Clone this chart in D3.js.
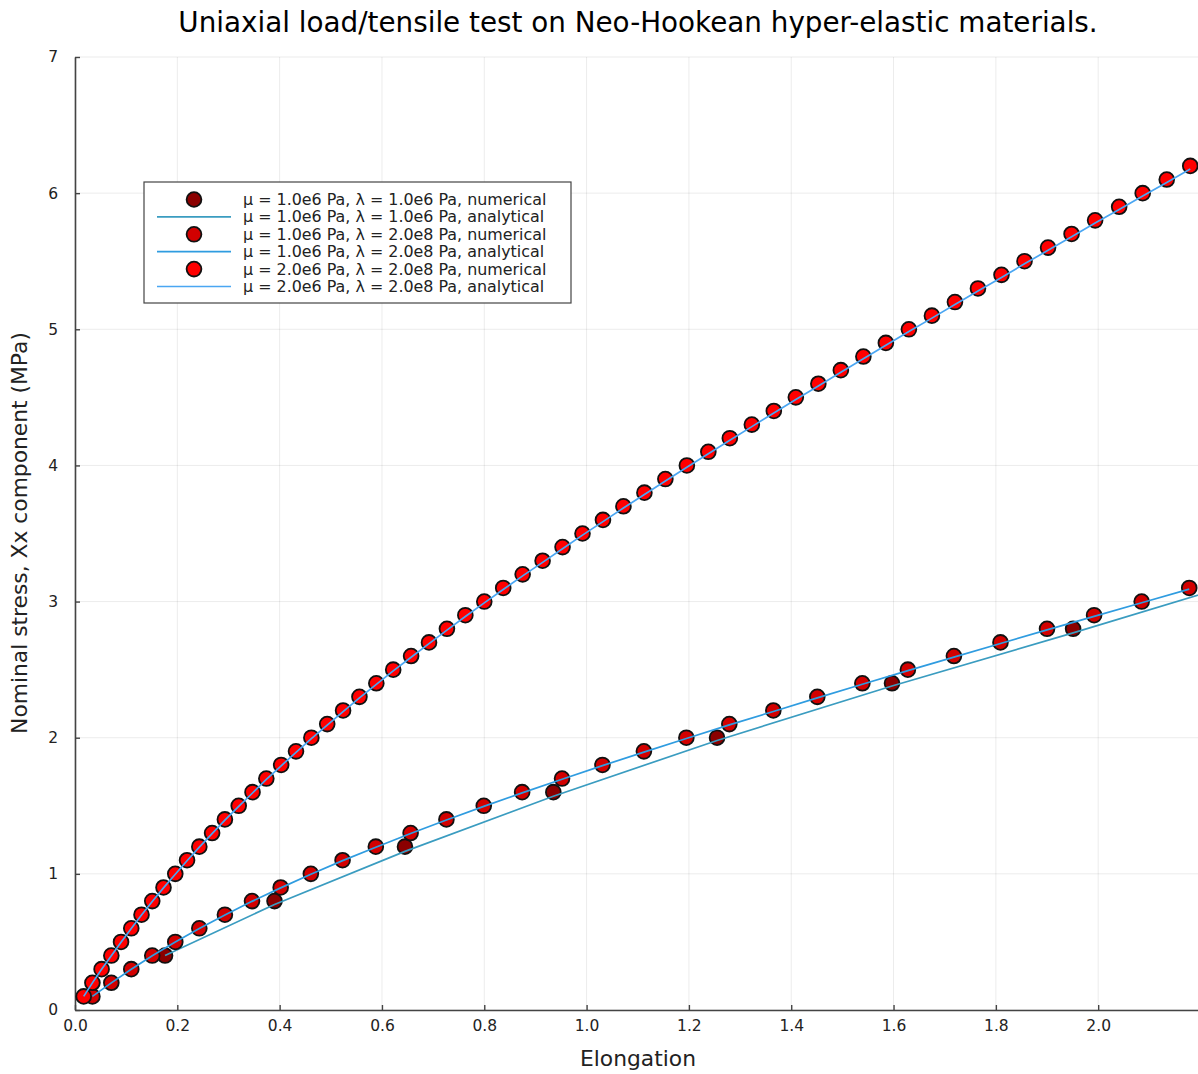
<!DOCTYPE html>
<html>
<head>
<meta charset="utf-8">
<script src="https://cdn.jsdelivr.net/npm/d3@7"></script>
<style>
  body { margin: 0; background: #fff; }
  text { font-family: "DejaVu Sans", sans-serif; }
</style>
</head>
<body>
<script>
// tick labels
var xTicks = [0.0, 0.2, 0.4, 0.6, 0.8, 1.0, 1.2, 1.4, 1.6, 1.8, 2.0];
var yTicks = [0, 1, 2, 3, 4, 5, 6, 7];

// mu = 1.0e6, lambda = 1.0e6 (numerical + analytical, same elongations)
var elong1 = [0.176, 0.390, 0.645, 0.935, 1.255, 1.597, 1.951, 2.330];
var stressNum1 = [0.4, 0.8, 1.2, 1.6, 2.0, 2.4, 2.8, 3.2];
var stressAna1 = [0.400, 0.775, 1.165, 1.570, 1.980, 2.380, 2.770, 3.200];

// mu = 1.0e6, lambda = 2.0e8
var elong2 = [0.034, 0.071, 0.110, 0.151, 0.196, 0.243, 0.293, 0.346, 0.402, 0.461,
  0.523, 0.588, 0.656, 0.726, 0.799, 0.874, 0.952, 1.031, 1.112, 1.195,
  1.279, 1.365, 1.451, 1.539, 1.628, 1.718, 1.809, 1.900, 1.992, 2.085, 2.178];
var stressNum2 = [0.1, 0.2, 0.3, 0.4, 0.5, 0.6, 0.7, 0.8, 0.9, 1.0,
  1.1, 1.2, 1.3, 1.4, 1.5, 1.6, 1.7, 1.8, 1.9, 2.0,
  2.1, 2.2, 2.3, 2.4, 2.5, 2.6, 2.7, 2.8, 2.9, 3.0, 3.1];
var stressAna2 = [0.100, 0.199, 0.299, 0.399, 0.499, 0.598, 0.698, 0.798, 0.897, 0.997,
  1.097, 1.196, 1.296, 1.396, 1.496, 1.595, 1.695, 1.795, 1.894, 1.994,
  2.094, 2.193, 2.293, 2.393, 2.493, 2.592, 2.692, 2.792, 2.891, 2.991, 3.091];

// mu = 2.0e6, lambda = 2.0e8
var elong3 = [0.017, 0.034, 0.052, 0.071, 0.090, 0.110, 0.130, 0.151, 0.173, 0.196,
  0.219, 0.243, 0.268, 0.293, 0.320, 0.347, 0.374, 0.403, 0.432, 0.462,
  0.493, 0.524, 0.556, 0.589, 0.622, 0.657, 0.692, 0.727, 0.763, 0.800,
  0.837, 0.875, 0.914, 0.953, 0.992, 1.032, 1.072, 1.113, 1.154, 1.196,
  1.238, 1.280, 1.323, 1.366, 1.409, 1.453, 1.497, 1.541, 1.585, 1.630,
  1.675, 1.720, 1.765, 1.811, 1.856, 1.902, 1.948, 1.994, 2.041, 2.087,
  2.134, 2.180];
var stressNum3 = [0.1, 0.2, 0.3, 0.4, 0.5, 0.6, 0.7, 0.8, 0.9, 1.0,
  1.1, 1.2, 1.3, 1.4, 1.5, 1.6, 1.7, 1.8, 1.9, 2.0,
  2.1, 2.2, 2.3, 2.4, 2.5, 2.6, 2.7, 2.8, 2.9, 3.0,
  3.1, 3.2, 3.3, 3.4, 3.5, 3.6, 3.7, 3.8, 3.9, 4.0,
  4.1, 4.2, 4.3, 4.4, 4.5, 4.6, 4.7, 4.8, 4.9, 5.0,
  5.1, 5.2, 5.3, 5.4, 5.5, 5.6, 5.7, 5.8, 5.9, 6.0,
  6.1, 6.2];
var stressAna3 = [0.100, 0.199, 0.299, 0.399, 0.498, 0.598, 0.698, 0.797, 0.897, 0.997,
  1.096, 1.196, 1.295, 1.395, 1.495, 1.594, 1.694, 1.794, 1.893, 1.993,
  2.093, 2.192, 2.292, 2.392, 2.491, 2.591, 2.691, 2.790, 2.890, 2.990,
  3.089, 3.189, 3.288, 3.388, 3.488, 3.587, 3.687, 3.787, 3.886, 3.986,
  4.086, 4.185, 4.285, 4.385, 4.484, 4.584, 4.684, 4.783, 4.883, 4.983,
  5.082, 5.182, 5.281, 5.381, 5.481, 5.580, 5.680, 5.780, 5.879, 5.979,
  6.079, 6.178];

var labels = [
  "μ = 1.0e6 Pa, λ = 1.0e6 Pa, numerical",
  "μ = 1.0e6 Pa, λ = 1.0e6 Pa, analytical",
  "μ = 1.0e6 Pa, λ = 2.0e8 Pa, numerical",
  "μ = 1.0e6 Pa, λ = 2.0e8 Pa, analytical",
  "μ = 2.0e6 Pa, λ = 2.0e8 Pa, numerical",
  "μ = 2.0e6 Pa, λ = 2.0e8 Pa, analytical"];

var markerColors = ["#8b0000", "#d20000", "#ff0000"];
var lineColors = ["#3a9cc0", "#2f9ce0", "#4aa6f2"];

var width = 1198, height = 1074;
var plotLeft = 75, plotTop = 57, plotRight = 1200.5, plotBottom = 1010;

var svg = d3.select("body").append("svg")
    .attr("width", width)
    .attr("height", height);

var x = d3.scaleLinear().domain([0, 2.2]).range([plotLeft, plotRight]);
var y = d3.scaleLinear().domain([0, 7]).range([plotBottom, plotTop]);

// grid
var grid = svg.append("g");
grid.selectAll("line.gx")
    .data(xTicks)
    .enter().append("line")
    .attr("x1", function (d) { return x(d); })
    .attr("x2", function (d) { return x(d); })
    .attr("y1", plotTop).attr("y2", plotBottom)
    .style("stroke", "#000").style("stroke-opacity", 0.08).style("stroke-width", 1);
grid.selectAll("line.gy")
    .data(yTicks)
    .enter().append("line")
    .attr("x1", plotLeft).attr("x2", plotRight)
    .attr("y1", function (d) { return y(d); })
    .attr("y2", function (d) { return y(d); })
    .style("stroke", "#000").style("stroke-opacity", 0.08).style("stroke-width", 1);

// axes
var xAxis = svg.append("g")
    .attr("transform", "translate(0," + plotBottom + ")")
    .call(d3.axisBottom(x).tickValues(xTicks).tickFormat(d3.format(".1f"))
        .tickSizeInner(-5).tickSizeOuter(0).tickPadding(10));
var yAxis = svg.append("g")
    .attr("transform", "translate(" + plotLeft + ",0)")
    .call(d3.axisLeft(y).tickValues(yTicks).tickFormat(d3.format("d"))
        .tickSizeInner(-5).tickSizeOuter(0).tickPadding(17));

[xAxis, yAxis].forEach(function (a) {
  a.select(".domain").style("stroke", "#444").style("stroke-width", 1.6);
  a.selectAll(".tick line").style("stroke", "#444").style("stroke-width", 1.4);
  a.selectAll(".tick text").style("font-size", "15.5px").style("fill", "#222")
      .style("font-family", "'DejaVu Sans', sans-serif");
});

// series
var series = [
  { xs: elong1, num: stressNum1, ana: stressAna1 },
  { xs: elong2, num: stressNum2, ana: stressAna2 },
  { xs: elong3, num: stressNum3, ana: stressAna3 }];

var lineGen = d3.line()
    .x(function (d) { return x(d[0]); })
    .y(function (d) { return y(d[1]); });

series.forEach(function (s, i) {
  var pts = s.xs.map(function (v, j) { return [v, s.num[j]]; });
  var ana = s.xs.map(function (v, j) { return [v, s.ana[j]]; });
  svg.append("g").selectAll("circle")
      .data(pts)
      .enter().append("circle")
      .attr("cx", function (d) { return x(d[0]); })
      .attr("cy", function (d) { return y(d[1]); })
      .attr("r", 7.4)
      .style("fill", markerColors[i])
      .style("stroke", "#111")
      .style("stroke-width", 1.8);
  svg.append("path")
      .datum(ana)
      .attr("d", lineGen)
      .style("fill", "none")
      .style("stroke", lineColors[i])
      .style("stroke-width", 1.7);
});

// title and axis labels
svg.append("text")
    .attr("x", 638).attr("y", 32)
    .attr("text-anchor", "middle")
    .style("font-size", "27.8px").style("fill", "#000")
    .text("Uniaxial load/tensile test on Neo-Hookean hyper-elastic materials.");

svg.append("text")
    .attr("x", 638).attr("y", 1066)
    .attr("text-anchor", "middle")
    .style("font-size", "21.8px").style("fill", "#222")
    .text("Elongation");

svg.append("text")
    .attr("transform", "translate(27,533) rotate(-90)")
    .attr("text-anchor", "middle")
    .style("font-size", "21.8px").style("fill", "#222")
    .text("Nominal stress, Xx component (MPa)");

// legend
var legend = svg.append("g");
legend.append("rect")
    .attr("x", 144).attr("y", 182)
    .attr("width", 427).attr("height", 121)
    .style("fill", "#fff").style("stroke", "#444").style("stroke-width", 1.2);

var rowY = d3.scaleLinear().domain([0, 5]).range([199.5, 286.5]);

labels.forEach(function (lab, k) {
  var cy = rowY(k);
  var si = Math.floor(k / 2);
  if (k % 2 === 0) {
    legend.append("circle")
        .attr("cx", 194).attr("cy", cy).attr("r", 7.4)
        .style("fill", markerColors[si]).style("stroke", "#111").style("stroke-width", 1.8);
  } else {
    legend.append("line")
        .attr("x1", 157).attr("x2", 231).attr("y1", cy).attr("y2", cy)
        .style("stroke", lineColors[si]).style("stroke-width", 1.7);
  }
  legend.append("text")
      .attr("x", 243).attr("y", cy + 5.5)
      .style("font-size", "15.9px").style("fill", "#222")
      .text(lab);
});
</script>
</body>
</html>
